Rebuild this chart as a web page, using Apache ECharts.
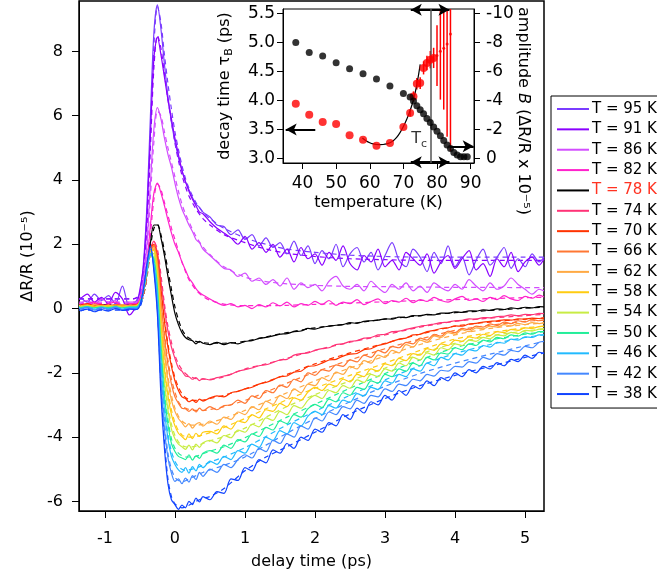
<!DOCTYPE html>
<html><head><meta charset="utf-8">
<script src="https://cdn.jsdelivr.net/npm/echarts@6/dist/echarts.min.js"></script>
<style>html,body{margin:0;padding:0;background:#fff}#c{width:657px;height:576px}</style>
</head><body><div id="c"></div>
<script>
// ---------- main panel data ----------
const delay = [-1.35,-1.25,-1.15,-1.05,-0.95,-0.85,-0.75,-0.65,-0.55,-0.5,-0.45,-0.4,-0.35,-0.3,-0.25,-0.2,-0.15,-0.1,-0.05,0,0.05,0.1,0.15,0.2,0.25,0.3,0.35,0.4,0.5,0.6,0.7,0.8,0.9,1.0,1.1,1.2,1.3,1.4,1.5,1.6,1.7,1.8,1.9,2.0,2.1,2.2,2.3,2.4,2.5,2.6,2.7,2.8,2.9,3.0,3.1,3.2,3.3,3.4,3.5,3.6,3.7,3.8,3.9,4.0,4.1,4.2,4.3,4.4,4.5,4.6,4.7,4.8,4.9,5.0,5.1,5.2,5.27];
const fitDelay = [-1.37,-0.9,-0.6,-0.5,-0.45,-0.4,-0.35,-0.3,-0.25,-0.2,-0.15,-0.1,-0.05,0,0.05,0.1,0.15,0.2,0.3,0.4,0.5,0.7,1.0,1.3,1.6,2.0,2.5,3.0,3.5,4.0,4.5,5.0,5.27];
const temperatures = ['95','91','86','82','78','74','70','66','62','58','54','50','46','42','38'];
const curveColors = ['#7a3cff','#8a00ff','#d24dff','#ff22cc','#000000','#ff3377','#ff3300','#ff7733','#ffaa44','#ffcc11','#c8ec44','#22ee99','#22bbff','#4488ff','#1144ff'];

const s95 = [0.35,0.2,0.45,0.25,0.4,0.15,0.7,0.05,0.25,0.5,1.4,3.2,6.0,8.6,9.45,8.7,7.6,6.6,5.8,5.2,4.7,4.3,3.95,3.7,3.45,3.25,3.15,3.0,2.85,2.6,2.55,2.3,2.45,2.15,2.3,1.95,2.2,1.9,2.05,1.7,2.1,1.65,1.95,1.4,1.8,1.55,2.0,1.3,1.7,1.9,1.45,1.75,1.2,1.65,2.05,1.5,1.3,1.85,1.6,1.15,1.75,1.4,1.95,1.3,1.6,1.05,1.5,1.85,1.35,1.6,1.9,1.25,1.55,1.3,1.7,1.45,1.6];
const s91 = [0.3,0.45,0.2,0.35,0.15,0.5,0.3,-0.2,0.1,0.6,1.3,2.9,5.4,7.8,8.45,7.9,7.2,6.5,5.9,5.3,4.8,4.3,3.95,3.65,3.4,3.2,3.0,2.95,2.7,2.5,2.35,2.2,2.0,2.25,1.85,2.05,1.75,2.0,1.6,1.85,1.45,1.9,1.55,1.7,1.35,1.75,1.5,1.95,1.4,1.2,1.65,1.45,1.85,1.3,1.5,1.2,1.75,1.55,1.35,1.7,1.1,1.45,1.65,1.25,1.55,1.8,1.2,1.4,1.0,1.55,1.3,1.75,1.15,1.45,1.6,1.35,1.55];
const s86 = [0.15,0.25,0.1,0.3,0.2,0.25,0.1,0.2,0.2,0.35,0.9,2.0,3.9,5.6,6.25,5.9,5.3,4.8,4.4,3.9,3.45,3.1,2.85,2.6,2.4,2.15,2.05,1.85,1.65,1.45,1.25,1.2,1.0,1.1,0.85,0.95,0.75,0.9,0.7,0.95,0.6,0.8,0.65,0.75,0.55,0.85,1.0,0.7,0.6,0.75,0.55,0.85,0.65,0.5,0.75,0.6,0.8,0.55,0.7,0.5,0.8,0.65,0.55,0.75,0.6,0.9,0.7,0.55,0.8,0.6,0.7,0.95,0.75,0.6,0.45,0.6,0.55];
const s82 = [0.1,0.15,0.2,0.1,0.15,0.2,0.1,0.15,0.15,0.3,0.65,1.4,2.6,3.6,3.9,3.6,3.2,2.75,2.35,2.0,1.75,1.45,1.2,0.95,0.8,0.62,0.5,0.42,0.3,0.18,0.1,0.15,0.05,0.1,0.0,0.12,0.05,0.18,0.08,0.2,0.05,0.15,0.1,0.22,0.12,0.25,0.1,0.2,0.15,0.28,0.12,0.22,0.3,0.15,0.25,0.2,0.32,0.18,0.28,0.22,0.35,0.25,0.2,0.3,0.38,0.25,0.3,0.22,0.35,0.28,0.4,0.3,0.25,0.38,0.32,0.42,0.36];
const s78 = [0.1,0.12,0.08,0.1,0.12,0.08,0.1,0.1,0.1,0.2,0.5,1.15,2.05,2.6,2.6,2.2,1.65,1.0,0.4,-0.15,-0.5,-0.75,-0.9,-0.97,-1.0,-1.1,-1.02,-1.08,-1.12,-1.05,-1.12,-1.06,-1.1,-1.02,-1.0,-0.93,-0.9,-0.85,-0.8,-0.78,-0.72,-0.7,-0.62,-0.64,-0.58,-0.55,-0.52,-0.5,-0.44,-0.46,-0.4,-0.38,-0.36,-0.32,-0.33,-0.27,-0.28,-0.22,-0.23,-0.18,-0.2,-0.14,-0.15,-0.1,-0.12,-0.07,-0.08,-0.04,-0.06,-0.01,-0.03,0.02,0.0,0.04,0.02,0.06,0.05];
const s74 = [0.12,0.05,0.15,0.08,0.12,0.05,0.1,0.08,0.1,0.2,0.5,1.1,1.85,2.1,1.7,0.85,0.0,-0.7,-1.2,-1.55,-1.85,-1.95,-2.1,-2.12,-2.2,-2.15,-2.24,-2.18,-2.22,-2.15,-2.1,-2.05,-1.95,-1.9,-1.85,-1.78,-1.75,-1.68,-1.6,-1.58,-1.45,-1.4,-1.38,-1.3,-1.25,-1.22,-1.12,-1.1,-1.02,-1.0,-0.92,-0.9,-0.82,-0.8,-0.72,-0.7,-0.65,-0.6,-0.55,-0.52,-0.48,-0.44,-0.42,-0.38,-0.37,-0.32,-0.33,-0.28,-0.29,-0.25,-0.24,-0.2,-0.22,-0.18,-0.19,-0.15,-0.16];
const s70 = [0.1,0.15,0.08,0.12,0.05,0.12,0.08,0.1,0.12,0.2,0.55,1.2,1.9,2.0,1.55,0.6,-0.4,-1.2,-1.8,-2.25,-2.55,-2.75,-2.8,-2.9,-2.85,-2.92,-2.82,-2.88,-2.78,-2.72,-2.75,-2.62,-2.58,-2.5,-2.45,-2.35,-2.3,-2.22,-2.12,-2.1,-1.98,-1.95,-1.8,-1.78,-1.7,-1.6,-1.58,-1.48,-1.42,-1.4,-1.28,-1.25,-1.15,-1.1,-1.02,-0.95,-0.92,-0.82,-0.8,-0.72,-0.68,-0.62,-0.6,-0.54,-0.55,-0.48,-0.46,-0.42,-0.4,-0.38,-0.35,-0.36,-0.32,-0.33,-0.3,-0.31,-0.28];
const s66 = [0.08,0.12,0.05,0.1,0.08,0.12,0.05,0.1,0.1,0.18,0.5,1.15,1.85,1.95,1.45,0.3,-0.9,-1.75,-2.35,-2.75,-2.95,-3.1,-3.12,-3.2,-3.12,-3.22,-3.1,-3.18,-3.05,-3.15,-3.02,-3.0,-2.85,-2.95,-2.72,-2.8,-2.55,-2.62,-2.38,-2.45,-2.2,-2.28,-2.0,-2.08,-1.9,-1.95,-1.75,-1.8,-1.6,-1.66,-1.45,-1.52,-1.3,-1.38,-1.18,-1.22,-1.05,-1.1,-0.92,-0.98,-0.8,-0.86,-0.7,-0.75,-0.62,-0.66,-0.55,-0.58,-0.48,-0.53,-0.42,-0.47,-0.38,-0.42,-0.34,-0.38,-0.35];
const s62 = [0.1,0.05,0.12,0.08,0.1,0.05,0.12,0.08,0.1,0.2,0.55,1.2,1.85,1.85,1.3,-0.05,-1.35,-2.25,-2.85,-3.2,-3.42,-3.55,-3.68,-3.58,-3.72,-3.6,-3.55,-3.66,-3.5,-3.6,-3.38,-3.45,-3.22,-3.3,-3.05,-3.15,-2.88,-2.98,-2.7,-2.8,-2.5,-2.62,-2.35,-2.4,-2.15,-2.25,-1.98,-2.05,-1.8,-1.88,-1.62,-1.7,-1.45,-1.52,-1.3,-1.38,-1.12,-1.2,-0.98,-1.05,-0.85,-0.9,-0.75,-0.8,-0.66,-0.72,-0.6,-0.63,-0.55,-0.58,-0.5,-0.54,-0.46,-0.5,-0.44,-0.47,-0.44];
const s58 = [0.05,0.1,0.08,0.05,0.1,0.06,0.08,0.05,0.08,0.2,0.55,1.2,1.8,1.8,1.1,-0.45,-1.85,-2.7,-3.3,-3.65,-3.88,-3.98,-4.08,-3.9,-4.05,-3.88,-3.98,-3.85,-3.82,-3.9,-3.65,-3.75,-3.5,-3.55,-3.3,-3.4,-3.15,-3.2,-2.95,-3.05,-2.78,-2.85,-2.6,-2.45,-2.55,-2.35,-2.42,-2.2,-2.28,-2.05,-2.12,-1.88,-1.95,-1.72,-1.78,-1.55,-1.62,-1.4,-1.45,-1.25,-1.3,-1.1,-1.15,-0.98,-1.02,-0.88,-0.92,-0.8,-0.84,-0.72,-0.75,-0.65,-0.68,-0.6,-0.62,-0.56,-0.55];
const s54 = [0.05,0.08,0.03,0.07,0.05,0.08,0.04,0.06,0.06,0.2,0.55,1.2,1.75,1.7,0.9,-0.85,-2.25,-3.15,-3.75,-4.05,-4.22,-4.3,-4.38,-4.25,-4.4,-4.22,-4.32,-4.18,-4.1,-4.18,-3.95,-4.02,-3.78,-3.85,-3.6,-3.68,-3.4,-3.48,-3.2,-3.3,-3.02,-3.1,-2.85,-2.7,-2.8,-2.55,-2.62,-2.4,-2.48,-2.22,-2.3,-2.05,-2.12,-1.88,-1.95,-1.7,-1.78,-1.52,-1.6,-1.38,-1.45,-1.22,-1.28,-1.1,-1.15,-0.98,-1.02,-0.9,-0.94,-0.82,-0.85,-0.74,-0.78,-0.68,-0.7,-0.64,-0.63];
const s50 = [0.03,0.06,0.02,0.05,0.03,0.06,0.02,0.05,0.05,0.18,0.55,1.15,1.7,1.55,0.65,-1.2,-2.7,-3.6,-4.2,-4.45,-4.6,-4.65,-4.7,-4.55,-4.72,-4.58,-4.66,-4.5,-4.42,-4.5,-4.25,-4.35,-4.08,-4.15,-3.9,-3.98,-3.7,-3.78,-3.5,-3.58,-3.3,-3.38,-3.12,-2.98,-3.08,-2.82,-2.9,-2.62,-2.7,-2.45,-2.52,-2.25,-2.32,-2.05,-2.12,-1.88,-1.95,-1.7,-1.78,-1.52,-1.6,-1.38,-1.42,-1.22,-1.28,-1.1,-1.15,-0.98,-1.04,-0.9,-0.94,-0.82,-0.86,-0.76,-0.8,-0.72,-0.72];
const s46 = [0.0,0.05,-0.02,0.04,0.0,0.05,-0.02,0.03,0.03,0.15,0.58,1.2,1.72,1.4,0.35,-1.65,-3.15,-4.05,-4.6,-4.85,-5.02,-5.1,-4.95,-5.12,-4.92,-5.05,-4.85,-4.95,-4.75,-4.85,-4.6,-4.7,-4.42,-4.5,-4.22,-4.32,-4.0,-4.1,-3.8,-3.9,-3.55,-3.65,-3.35,-3.2,-3.3,-3.02,-3.1,-2.85,-2.92,-2.65,-2.72,-2.45,-2.52,-2.25,-2.32,-2.05,-2.12,-1.88,-1.95,-1.7,-1.78,-1.52,-1.6,-1.4,-1.45,-1.28,-1.32,-1.15,-1.2,-1.05,-1.08,-0.95,-0.98,-0.88,-0.9,-0.82,-0.82];
const s42 = [-0.02,0.03,-0.05,0.02,-0.03,0.04,-0.04,0.0,0.0,0.12,0.6,1.35,1.85,1.25,-0.05,-2.2,-3.75,-4.65,-5.12,-5.38,-5.3,-5.45,-5.28,-5.4,-5.2,-5.32,-5.1,-5.22,-5.0,-5.1,-4.85,-4.95,-4.7,-4.55,-4.65,-4.35,-4.45,-4.1,-4.2,-3.9,-4.0,-3.65,-3.75,-3.4,-3.5,-3.22,-3.3,-3.05,-3.12,-2.85,-2.95,-2.7,-2.75,-2.5,-2.58,-2.35,-2.4,-2.2,-2.25,-2.05,-2.1,-1.92,-1.95,-1.8,-1.82,-1.65,-1.7,-1.52,-1.58,-1.4,-1.45,-1.3,-1.34,-1.18,-1.22,-1.05,-1.02];
const s38 = [-0.08,-0.02,-0.1,-0.03,-0.08,0.0,-0.06,-0.02,-0.03,0.1,0.6,1.4,1.95,1.15,-0.2,-2.7,-4.35,-5.45,-5.95,-6.1,-6.25,-6.12,-6.2,-6.0,-6.1,-5.9,-6.02,-5.85,-5.95,-5.7,-5.75,-5.3,-5.35,-4.95,-5.05,-4.7,-4.8,-4.4,-4.5,-4.2,-4.35,-4.0,-4.1,-3.75,-3.85,-3.55,-3.65,-3.3,-3.45,-3.1,-3.25,-2.9,-3.0,-2.7,-2.85,-2.55,-2.7,-2.4,-2.5,-2.25,-2.4,-2.15,-2.25,-2.0,-2.12,-1.9,-2.0,-1.8,-1.88,-1.68,-1.78,-1.58,-1.65,-1.45,-1.55,-1.36,-1.4];

const f95 = [0.3,0.3,0.3,0.45,1.2,2.8,5.5,8.2,9.4,8.9,7.9,7.0,6.2,5.5,4.95,4.45,4.05,3.75,3.3,3.0,2.8,2.5,2.2,2.0,1.85,1.75,1.66,1.62,1.6,1.6,1.6,1.6,1.6];
const f91 = [0.3,0.3,0.3,0.42,1.1,2.5,5.0,7.5,8.5,8.1,7.3,6.5,5.8,5.15,4.6,4.15,3.8,3.5,3.1,2.8,2.6,2.3,2.05,1.85,1.72,1.62,1.55,1.52,1.5,1.5,1.5,1.5,1.5];
const f86 = [0.2,0.2,0.2,0.3,0.8,1.8,3.5,5.2,6.15,6.0,5.5,5.0,4.55,4.1,3.65,3.25,2.95,2.7,2.25,1.92,1.68,1.3,0.98,0.84,0.77,0.72,0.69,0.68,0.67,0.66,0.66,0.65,0.65];
const f82 = [0.15,0.15,0.15,0.22,0.55,1.2,2.3,3.4,3.88,3.7,3.3,2.9,2.5,2.15,1.8,1.45,1.15,0.9,0.58,0.38,0.26,0.14,0.09,0.09,0.1,0.13,0.17,0.21,0.25,0.28,0.31,0.34,0.35];
const f78 = [0.1,0.1,0.1,0.15,0.4,1.0,1.9,2.5,2.62,2.3,1.8,1.2,0.6,0.05,-0.35,-0.65,-0.82,-0.92,-1.02,-1.06,-1.08,-1.08,-1.02,-0.88,-0.75,-0.6,-0.47,-0.33,-0.22,-0.13,-0.06,0.01,0.04];
const f74 = [0.1,0.1,0.1,0.15,0.4,0.95,1.7,2.08,1.85,1.05,0.15,-0.55,-1.05,-1.45,-1.72,-1.9,-2.02,-2.1,-2.18,-2.2,-2.2,-2.12,-1.88,-1.72,-1.55,-1.3,-1.05,-0.82,-0.58,-0.4,-0.3,-0.22,-0.18];
const f70 = [0.1,0.1,0.1,0.15,0.45,1.05,1.75,2.0,1.7,0.7,-0.3,-1.1,-1.7,-2.15,-2.45,-2.65,-2.77,-2.83,-2.86,-2.85,-2.8,-2.7,-2.5,-2.28,-2.05,-1.72,-1.38,-1.08,-0.8,-0.55,-0.42,-0.33,-0.3];
const f66 = [0.1,0.1,0.1,0.15,0.45,1.05,1.7,1.95,1.6,0.4,-0.75,-1.6,-2.2,-2.6,-2.9,-3.05,-3.1,-3.14,-3.17,-3.17,-3.14,-3.05,-2.86,-2.6,-2.32,-1.98,-1.6,-1.25,-0.95,-0.68,-0.52,-0.4,-0.36];
const f62 = [0.1,0.1,0.1,0.15,0.5,1.1,1.75,1.9,1.45,0.05,-1.2,-2.1,-2.7,-3.1,-3.35,-3.5,-3.58,-3.62,-3.63,-3.6,-3.55,-3.42,-3.17,-2.9,-2.62,-2.25,-1.85,-1.48,-1.12,-0.82,-0.62,-0.5,-0.45];
const f58 = [0.08,0.08,0.08,0.14,0.5,1.1,1.7,1.85,1.3,-0.3,-1.65,-2.55,-3.15,-3.55,-3.8,-3.93,-3.99,-4.0,-3.98,-3.93,-3.86,-3.7,-3.42,-3.12,-2.84,-2.48,-2.08,-1.7,-1.3,-0.95,-0.75,-0.6,-0.55];
const f54 = [0.06,0.06,0.06,0.14,0.5,1.1,1.7,1.75,1.1,-0.65,-2.05,-3.0,-3.6,-3.95,-4.15,-4.26,-4.3,-4.31,-4.28,-4.2,-4.12,-3.98,-3.72,-3.38,-3.05,-2.68,-2.25,-1.85,-1.42,-1.08,-0.85,-0.7,-0.63];
const f50 = [0.05,0.05,0.05,0.12,0.48,1.05,1.65,1.65,0.9,-1.0,-2.5,-3.45,-4.05,-4.35,-4.5,-4.58,-4.62,-4.62,-4.6,-4.52,-4.44,-4.3,-4.02,-3.7,-3.38,-2.98,-2.48,-2.02,-1.6,-1.22,-0.98,-0.8,-0.72];
const f46 = [0.03,0.03,0.03,0.1,0.5,1.1,1.7,1.5,0.6,-1.4,-2.95,-3.9,-4.45,-4.75,-4.92,-5.0,-5.04,-5.02,-4.96,-4.88,-4.78,-4.62,-4.33,-3.98,-3.62,-3.2,-2.7,-2.22,-1.78,-1.4,-1.12,-0.9,-0.82];
const f42 = [0.0,0.0,0.0,0.08,0.5,1.2,1.85,1.4,0.2,-1.9,-3.5,-4.5,-5.0,-5.25,-5.35,-5.39,-5.36,-5.3,-5.2,-5.1,-5.02,-4.88,-4.62,-4.25,-3.88,-3.42,-2.9,-2.42,-2.02,-1.7,-1.42,-1.16,-1.02];
const f38 = [-0.05,-0.05,-0.05,0.05,0.5,1.25,1.9,1.3,0.0,-2.4,-4.1,-5.3,-5.85,-6.08,-6.16,-6.2,-6.18,-6.12,-6.0,-5.9,-5.85,-5.6,-5.05,-4.62,-4.3,-3.85,-3.28,-2.8,-2.4,-2.08,-1.8,-1.52,-1.38];

const mainXTicks = [-1,0,1,2,3,4,5];
const mainYTicks = [-6,-4,-2,0,2,4,6,8];

// ---------- inset data ----------
const tauTemps = [38,42,46,50,54,58,62,66,70,72,73,74,75,76,77,78,79,80,81,82,83,84,85,86,87,88,89];
const tauB = [5.0,4.83,4.77,4.65,4.55,4.46,4.37,4.25,4.12,4.06,3.99,3.91,3.84,3.77,3.69,3.62,3.54,3.47,3.39,3.31,3.23,3.17,3.10,3.06,3.03,3.03,3.03];
const ampTemps = [38,42,46,50,54,58,62,66,70,72,73,74,75,76,77,78,79,80,81,82,83,84];
const ampB = [-3.78,-3.02,-2.52,-2.38,-1.59,-1.29,-0.88,-1.06,-2.17,-3.14,-4.28,-5.16,-5.2,-6.25,-6.59,-6.82,-6.94,-7.1,-7.4,-7.6,-7.9,-8.6];
const ampErr = [0,0,0,0,0,0,0,0,0,0.25,0.35,0.4,0.4,0.45,0.5,0.6,0.7,2.1,3.34,4.23,6.4,8.1];
const ampFitT = [57.8,59,60,61,62,63,64,65,66,67,68,69,70,71,72,73,74,75];
const ampFitB = [-1.41,-1.2,-1.08,-1.0,-0.96,-0.95,-0.96,-1.0,-1.08,-1.22,-1.45,-1.78,-2.2,-2.7,-3.3,-4.05,-5.1,-6.5];
const insetXTicks = [40,50,60,70,80,90];
const insetTauTicks = [3.0,3.5,4.0,4.5,5.0,5.5];
const insetAmpTicks = [-10,-8,-6,-4,-2,0];
const Tc = 78;

// ---------- build ----------
const solids = [s95,s91,s86,s82,s78,s74,s70,s66,s62,s58,s54,s50,s46,s42,s38];
const fits = [f95,f91,f86,f82,f78,f74,f70,f66,f62,f58,f54,f50,f46,f42,f38];
const FONT = 'DejaVu Sans';
const chart = echarts.init(document.getElementById('c'), null, {renderer:'canvas', width:657, height:576});

const series = [];
temperatures.forEach((t, i) => {
  series.push({
    name: 'T = ' + t + ' K', type: 'line', xAxisIndex: 0, yAxisIndex: 0,
    data: delay.map((x, j) => [x, solids[i][j]]).filter(p => p[1] !== undefined),
    symbol: 'none', showSymbol: false, smooth: 0.3,
    lineStyle: {color: curveColors[i], width: 1.2}, itemStyle: {color: curveColors[i]},
    z: 3, silent: true
  });
  series.push({
    name: 'fit ' + t, type: 'line', xAxisIndex: 0, yAxisIndex: 0,
    data: fitDelay.map((x, j) => [x, fits[i][j]]),
    symbol: 'none', showSymbol: false, smooth: 0.3,
    lineStyle: {color: curveColors[i], width: 1.2, type: [5, 4]}, itemStyle: {color: curveColors[i]},
    z: 2, silent: true
  });
});

const arrowStyle = {color: '#000', width: 2, type: 'solid'};
series.push({
  name: 'tau', type: 'scatter', xAxisIndex: 1, yAxisIndex: 1,
  data: tauTemps.map((t, i) => [t, tauB[i]]),
  symbol: 'circle', symbolSize: 7, itemStyle: {color: '#000'}, z: 6, silent: true,
  markLine: {
    silent: true, animation: false, label: {show: false}, symbolSize: [9, 11],
    data: [
      [{coord: [35.0, 3.5], symbol: 'arrow', lineStyle: arrowStyle}, {coord: [43.8, 3.5], symbol: 'none'}],
      [{coord: [72.2, 5.565], symbol: 'arrow', lineStyle: arrowStyle}, {coord: [83.7, 5.565], symbol: 'arrow'}],
      [{coord: [72.2, 2.935], symbol: 'arrow', lineStyle: arrowStyle}, {coord: [83.7, 2.935], symbol: 'arrow'}],
      [{coord: [Tc, 2.92], symbol: 'none', lineStyle: {color: '#555', width: 1.5, type: 'solid'}}, {coord: [Tc, 5.58], symbol: 'none'}]
    ]
  }
});
series.push({
  name: 'Tc label', type: 'scatter', xAxisIndex: 1, yAxisIndex: 1,
  data: [[74.7, 3.33]], symbolSize: 0, silent: true, z: 7,
  label: {show: true, position: 'inside', formatter: 'T{s|c}', color: '#000', fontFamily: FONT, fontSize: 16,
    rich: {s: {fontSize: 11, fontFamily: FONT, padding: [9, 0, 0, 0]}}}
});
series.push({
  name: 'errbars', type: 'custom', xAxisIndex: 1, yAxisIndex: 2, silent: true, z: 4,
  data: ampTemps.map((t, i) => [t, ampB[i], ampErr[i]]),
  renderItem: (params, api) => {
    const t = api.value(0), c = api.value(1), e = api.value(2);
    if (!e) return {type: 'group', children: []};
    const p1 = api.coord([t, c - e]), p2 = api.coord([t, c + e]);
    const cs = params.coordSys;
    const cl = y => Math.max(cs.y, Math.min(cs.y + cs.height, y));
    return {type: 'line', shape: {x1: p1[0], y1: cl(p1[1]), x2: p2[0], y2: cl(p2[1])}, style: {stroke: '#ff0000', lineWidth: 1.5}};
  }
});
series.push({
  name: 'amp', type: 'scatter', xAxisIndex: 1, yAxisIndex: 2,
  data: ampTemps.map((t, i) => ({value: [t, ampB[i]], symbolSize: ampErr[i] > 1 ? 3 : 8})),
  symbol: 'circle', itemStyle: {color: '#ff0000'}, z: 5, silent: true,
  markLine: {
    silent: true, animation: false, label: {show: false}, symbolSize: [9, 11],
    data: [[{coord: [83.9, -0.83], symbol: 'none', lineStyle: arrowStyle}, {coord: [90.9, -0.83], symbol: 'arrow'}]]
  }
});
series.push({
  name: 'ampfit', type: 'line', xAxisIndex: 1, yAxisIndex: 2,
  data: ampFitT.map((t, i) => [t, ampFitB[i]]),
  symbol: 'none', smooth: 0.4, lineStyle: {color: '#000', width: 1.2}, z: 4, silent: true
});

const legendData = temperatures.map(t => t === '78'
  ? {name: 'T = 78 K', textStyle: {color: '#ff3322'}}
  : {name: 'T = ' + t + ' K'});

const axisCommon = {
  axisLine: {show: true, onZero: false, lineStyle: {color: '#000', width: 1}},
  splitLine: {show: false},
  nameTextStyle: {color: '#000', fontFamily: FONT, fontSize: 16}
};

chart.setOption({
  animation: false,
  backgroundColor: '#fff',
  textStyle: {fontFamily: FONT},
  grid: [
    {left: 79, top: 1, width: 465, height: 510, show: true, borderColor: '#000', borderWidth: 1.5, backgroundColor: 'transparent', containLabel: false, outerBoundsMode: 'none'},
    {left: 283, top: 9, width: 191, height: 154, show: true, borderColor: '#000', borderWidth: 1, backgroundColor: 'transparent', containLabel: false, outerBoundsMode: 'none'}
  ],
  xAxis: [
    Object.assign({}, axisCommon, {
      gridIndex: 0, type: 'value', min: -1.37, max: 5.27,
      axisTick: {show: true, inside: false, length: 7, customValues: mainXTicks, lineStyle: {color: '#000'}},
      axisLabel: {customValues: mainXTicks, color: '#000', fontSize: 16, fontFamily: FONT, margin: 20},
      name: 'delay time (ps)', nameLocation: 'middle', nameGap: 43
    }),
    Object.assign({}, axisCommon, {
      gridIndex: 1, type: 'value', min: 34.2, max: 91,
      axisTick: {show: true, inside: false, length: 6, customValues: insetXTicks, lineStyle: {color: '#000'}},
      axisLabel: {customValues: insetXTicks, color: '#000', fontSize: 17, fontFamily: FONT, margin: 12},
      name: 'temperature (K)', nameLocation: 'middle', nameGap: 32
    })
  ],
  yAxis: [
    Object.assign({}, axisCommon, {
      gridIndex: 0, type: 'value', min: -6.3, max: 9.57,
      axisTick: {show: true, inside: false, length: 7, customValues: mainYTicks, lineStyle: {color: '#000'}},
      axisLabel: {customValues: mainYTicks, color: '#000', fontSize: 16, fontFamily: FONT, margin: 16},
      name: 'ΔR/R (10⁻⁵)', nameLocation: 'middle', nameGap: 42, nameRotate: 90
    }),
    Object.assign({}, axisCommon, {
      gridIndex: 1, type: 'value', position: 'left', min: 2.92, max: 5.58,
      axisTick: {show: true, inside: false, length: 6, customValues: insetTauTicks, lineStyle: {color: '#000'}},
      axisLabel: {customValues: insetTauTicks, color: '#000', fontSize: 17, fontFamily: FONT, margin: 8, formatter: v => v.toFixed(1)},
      name: 'decay time τ{s|B} (ps)', nameLocation: 'middle', nameGap: 48, nameRotate: 90,
      nameTextStyle: {color: '#000', fontFamily: FONT, fontSize: 16, rich: {s: {fontSize: 11, fontFamily: FONT, padding: [9, 0, 0, 0]}}}
    }),
    Object.assign({}, axisCommon, {
      gridIndex: 1, type: 'value', position: 'right', min: -10.32, max: 0.32, inverse: true,
      axisTick: {show: true, inside: false, length: 6, customValues: insetAmpTicks, lineStyle: {color: '#000'}},
      axisLabel: {customValues: insetAmpTicks, color: '#000', fontSize: 17, fontFamily: FONT, margin: 12}
    })
  ],
  legend: {
    orient: 'vertical', left: 551, top: 96, padding: [5, 45, 6, 6],
    icon: 'rect', itemWidth: 32, itemHeight: 2, itemGap: 4.36,
    borderColor: '#000', borderWidth: 1, backgroundColor: '#fff',
    textStyle: {color: '#000', fontSize: 15, fontFamily: FONT, lineHeight: 16, padding: [0, 0, 0, -2]},
    selectedMode: false,
    data: legendData
  },
  graphic: [{
    type: 'text', x: 523, y: 111, rotation: -Math.PI / 2,
    style: {
      text: '{a|amplitude }{i|B}{a| (ΔR/R x 10⁻⁵)}',
      align: 'center', verticalAlign: 'middle', fill: '#000',
      rich: {a: {fontSize: 16, fontFamily: FONT, fill: '#000'}, i: {fontSize: 16, fontFamily: FONT, fontStyle: 'italic', fill: '#000'}}
    }
  }],
  series: series
});
</script>
</body></html>
